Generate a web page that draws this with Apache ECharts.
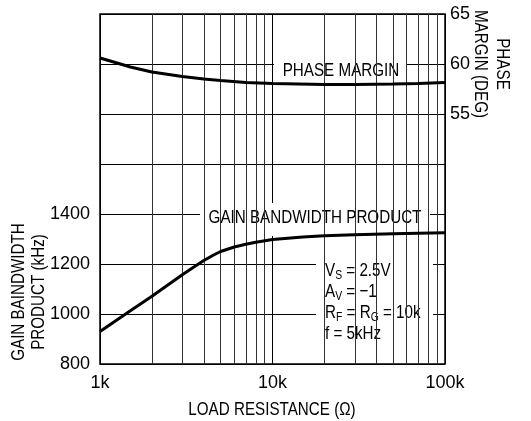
<!DOCTYPE html>
<html><head><meta charset="utf-8">
<script src="https://cdn.jsdelivr.net/npm/echarts@6/dist/echarts.min.js"></script>
<style>html,body{margin:0;padding:0;background:#fff}#c{width:531px;height:421px}</style>
</head><body><div id="c"></div>
<script>
// ---- data ----
const minorGridX = [2000,3000,4000,5000,6000,7000,8000,9000,20000,30000,40000,50000,60000,70000,80000,90000];
const gbwX = [1000,1500,2000,3000,3500,4000,4500,5000,6000,7000,8000,10000,15000,20000,30000,50000,70000,100000];
const gbwY = [930,1013,1071,1157,1188,1214,1234,1250,1268,1279,1287,1298,1308,1313,1317,1321,1323,1325];
const pmX = [1000,1200,1500,2000,3000,4000,5000,7000,10000,20000,30000,50000,70000,100000];
const pmY = [60.6,60.2,59.7,59.2,58.75,58.5,58.35,58.15,58.05,57.95,57.95,58.0,58.05,58.15];
const leftTickLabels = [800,1000,1200,1400];
const rightTickLabels = [55,60,65];
const xTickLabels = {1000:'1k',10000:'10k',100000:'100k'};

const FONT = "'Liberation Sans',Arial,sans-serif";
const FS = 19;
const TICKFS = 18;
const SX = 0.8;

const chart = echarts.init(document.getElementById('c'), null, {renderer:'canvas'});

function textEl(x, y, text, extra) {
  return Object.assign({type:'text', x:x, y:y, z:3, scaleX:SX,
    style:{text:text, fontFamily:FONT, fontSize:FS, lineHeight:20, fill:'#000', align:'center', verticalAlign:'middle'}}, extra||{});
}
function box(x, y, w, h) {
  return {type:'rect', z:3, shape:{x:x, y:y, width:w, height:h}, style:{fill:'#fff'}};
}
const rich = {
  m:{fontFamily:FONT, fontSize:FS, lineHeight:22, fill:'#000'},
  s:{fontFamily:FONT, fontSize:13, lineHeight:10, verticalAlign:'bottom', fill:'#000'}
};
function richEl(x, y, text) {
  return {type:'text', x:x, y:y, z:3, scaleX:SX,
    style:{text:text, rich:rich, align:'left', verticalAlign:'middle'}};
}

chart.setOption({
  animation:false,
  backgroundColor:'#fff',
  grid:{left:100, right:86, top:14, bottom:57, show:true, borderColor:'#000', borderWidth:1.5, backgroundColor:'transparent'},
  xAxis:{type:'log', logBase:10, min:1000, max:100000,
    axisLine:{show:false}, axisTick:{show:false},
    axisLabel:{fontFamily:FONT, fontSize:TICKFS, color:'#000', margin:10,
      formatter:v => xTickLabels[Math.round(v)] || ''},
    splitLine:{show:true, lineStyle:{color:'#000', width:1}},
    minorTick:{show:false}, minorSplitLine:{show:false}
  },
  yAxis:[
    {type:'value', min:800, max:2200, interval:200, position:'left',
      axisLine:{show:false}, axisTick:{show:false},
      axisLabel:{fontFamily:FONT, fontSize:TICKFS, color:'#000', margin:10,
        formatter:v => leftTickLabels.indexOf(v) >= 0 ? String(v) : ''},
      splitLine:{show:true, lineStyle:{color:'#000', width:1}}},
    {type:'value', min:30, max:65, interval:5, position:'right',
      axisLine:{show:false}, axisTick:{show:false},
      axisLabel:{fontFamily:FONT, fontSize:TICKFS, color:'#000', margin:5,
        formatter:v => rightTickLabels.indexOf(v) >= 0 ? String(v) : ''},
      splitLine:{show:false}}
  ],
  series:[
    {type:'line', name:'grid', data:[], z:1, silent:true,
      markLine:{silent:true, symbol:['none','none'], animation:false,
        label:{show:false}, emphasis:{disabled:true},
        lineStyle:{color:'#333', width:1, type:'solid'},
        data:minorGridX.map(v => ({xAxis:v}))}},
    {type:'line', name:'GBW', yAxisIndex:0, z:5, showSymbol:false, symbol:'none',
      lineStyle:{color:'#000', width:3}, data:gbwX.map((x,i)=>[x,gbwY[i]])},
    {type:'line', name:'PM', yAxisIndex:1, z:5, showSymbol:false, symbol:'none',
      lineStyle:{color:'#000', width:3}, data:pmX.map((x,i)=>[x,pmY[i]])}
  ],
  graphic:[
    box(274,55,133,33),
    textEl(341,71,'PHASE MARGIN'),
    box(200,203,230,33),
    textEl(315,218,'GAIN BANDWIDTH PRODUCT'),
    box(316,255,117,93),
    richEl(325,271,'{m|V}{s|S}{m| = 2.5V}'),
    richEl(325,292,'{m|A}{s|V}{m| = \u22121}'),
    richEl(325,313,'{m|R}{s|F}{m| = R}{s|G}{m| = 10k}'),
    richEl(325,334,'{m|f = 5kHz}'),
    textEl(272,410,'LOAD RESISTANCE (\u03A9)'),
    textEl(29,292,'GAIN BAINDWIDTH\nPRODUCT (kHz)', {rotation:Math.PI/2}),
    textEl(491,64,'PHASE\nMARGIN (DEG)', {rotation:-Math.PI/2, style:{text:'PHASE\nMARGIN (DEG)', fontFamily:FONT, fontSize:FS, lineHeight:22, fill:'#000', align:'center', verticalAlign:'middle'}})
  ]
});
</script></body></html>
